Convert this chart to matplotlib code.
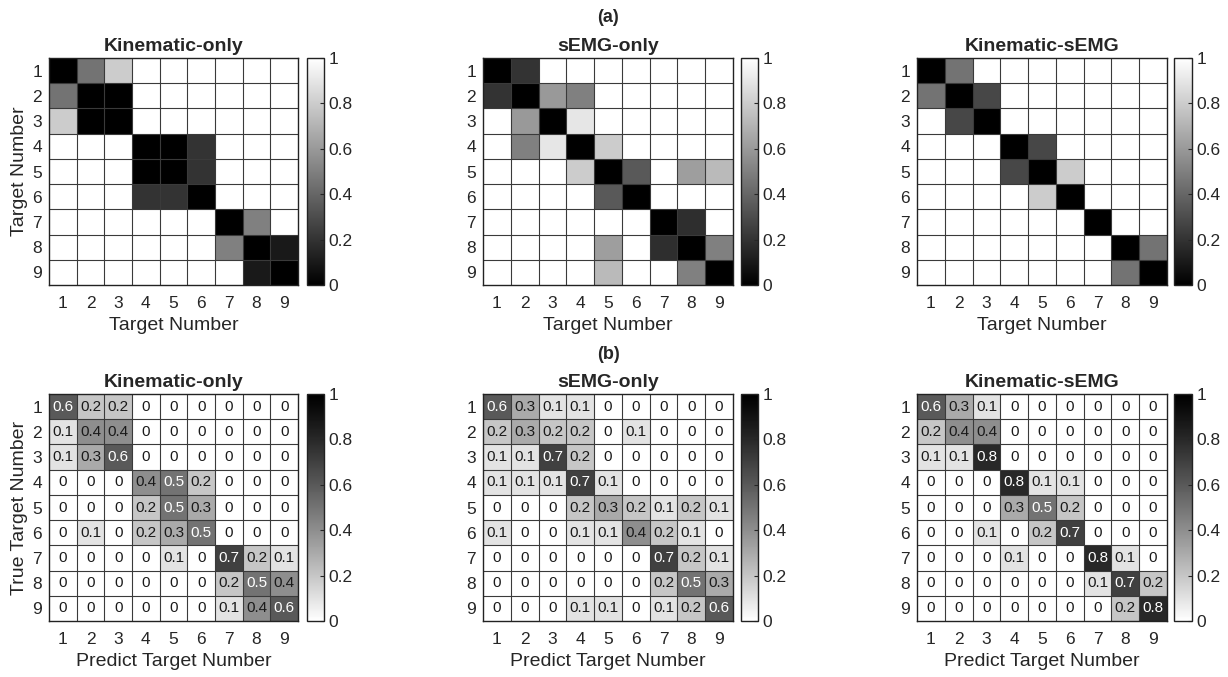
import numpy as np
import matplotlib
matplotlib.use("Agg")
import matplotlib.pyplot as plt
from matplotlib.colors import LinearSegmentedColormap, ListedColormap

plt.rcParams['font.family'] = ['Liberation Sans', 'DejaVu Sans']

# ---------------- data ----------------
targets = [1, 2, 3, 4, 5, 6, 7, 8, 9]
tick_labels = [str(t) for t in targets]
titles = ["Kinematic-only", "sEMG-only", "Kinematic-sEMG"]

# (a) similarity / distance maps (0 = black, 1 = white)
sim_kin = [
    [0.00, 0.45, 0.80, 1, 1, 1, 1, 1, 1],
    [0.45, 0.00, 0.00, 1, 1, 1, 1, 1, 1],
    [0.80, 0.00, 0.00, 1, 1, 1, 1, 1, 1],
    [1, 1, 1, 0.00, 0.00, 0.20, 1, 1, 1],
    [1, 1, 1, 0.00, 0.00, 0.20, 1, 1, 1],
    [1, 1, 1, 0.20, 0.20, 0.00, 1, 1, 1],
    [1, 1, 1, 1, 1, 1, 0.00, 0.50, 1],
    [1, 1, 1, 1, 1, 1, 0.50, 0.00, 0.10],
    [1, 1, 1, 1, 1, 1, 1, 0.10, 0.00],
]
sim_emg = [
    [0.00, 0.20, 1, 1, 1, 1, 1, 1, 1],
    [0.20, 0.00, 0.60, 0.50, 1, 1, 1, 1, 1],
    [1, 0.60, 0.00, 0.90, 1, 1, 1, 1, 1],
    [1, 0.50, 0.90, 0.00, 0.80, 1, 1, 1, 1],
    [1, 1, 1, 0.80, 0.00, 0.35, 1, 0.62, 0.73],
    [1, 1, 1, 1, 0.35, 0.00, 1, 1, 1],
    [1, 1, 1, 1, 1, 1, 0.00, 0.18, 1],
    [1, 1, 1, 1, 0.62, 1, 0.18, 0.00, 0.50],
    [1, 1, 1, 1, 0.73, 1, 1, 0.50, 0.00],
]
sim_both = [
    [0.00, 0.45, 1, 1, 1, 1, 1, 1, 1],
    [0.45, 0.00, 0.28, 1, 1, 1, 1, 1, 1],
    [1, 0.28, 0.00, 1, 1, 1, 1, 1, 1],
    [1, 1, 1, 0.00, 0.28, 1, 1, 1, 1],
    [1, 1, 1, 0.28, 0.00, 0.80, 1, 1, 1],
    [1, 1, 1, 1, 0.80, 0.00, 1, 1, 1],
    [1, 1, 1, 1, 1, 1, 0.00, 1, 1],
    [1, 1, 1, 1, 1, 1, 1, 0.00, 0.45],
    [1, 1, 1, 1, 1, 1, 1, 0.45, 0.00],
]

# (b) confusion matrices
conf_kin = [
    [0.6, 0.2, 0.2, 0, 0, 0, 0, 0, 0],
    [0.1, 0.4, 0.4, 0, 0, 0, 0, 0, 0],
    [0.1, 0.3, 0.6, 0, 0, 0, 0, 0, 0],
    [0, 0, 0, 0.4, 0.5, 0.2, 0, 0, 0],
    [0, 0, 0, 0.2, 0.5, 0.3, 0, 0, 0],
    [0, 0.1, 0, 0.2, 0.3, 0.5, 0, 0, 0],
    [0, 0, 0, 0, 0.1, 0, 0.7, 0.2, 0.1],
    [0, 0, 0, 0, 0, 0, 0.2, 0.5, 0.4],
    [0, 0, 0, 0, 0, 0, 0.1, 0.4, 0.6],
]
conf_emg = [
    [0.6, 0.3, 0.1, 0.1, 0, 0, 0, 0, 0],
    [0.2, 0.3, 0.2, 0.2, 0, 0.1, 0, 0, 0],
    [0.1, 0.1, 0.7, 0.2, 0, 0, 0, 0, 0],
    [0.1, 0.1, 0.1, 0.7, 0.1, 0, 0, 0, 0],
    [0, 0, 0, 0.2, 0.3, 0.2, 0.1, 0.2, 0.1],
    [0.1, 0, 0, 0.1, 0.1, 0.4, 0.2, 0.1, 0],
    [0, 0, 0, 0, 0, 0, 0.7, 0.2, 0.1],
    [0, 0, 0, 0, 0, 0, 0.2, 0.5, 0.3],
    [0, 0, 0, 0.1, 0.1, 0, 0.1, 0.2, 0.6],
]
conf_both = [
    [0.6, 0.3, 0.1, 0, 0, 0, 0, 0, 0],
    [0.2, 0.4, 0.4, 0, 0, 0, 0, 0, 0],
    [0.1, 0.1, 0.8, 0, 0, 0, 0, 0, 0],
    [0, 0, 0, 0.8, 0.1, 0.1, 0, 0, 0],
    [0, 0, 0, 0.3, 0.5, 0.2, 0, 0, 0],
    [0, 0, 0.1, 0, 0.2, 0.7, 0, 0, 0],
    [0, 0, 0, 0.1, 0, 0, 0.8, 0.1, 0],
    [0, 0, 0, 0, 0, 0, 0.1, 0.7, 0.2],
    [0, 0, 0, 0, 0, 0, 0, 0.2, 0.8],
]

# ---------------- layout ----------------
W, H = 1228, 677
fig = plt.figure(figsize=(W / 100, H / 100), dpi=100)

ax_x = [(49, 298), (483, 733), (917, 1167)]
cb_x = [(307, 324), (741, 758), (1174, 1192)]
row_y = [(58, 285), (394, 621)]

def px_rect(x0, x1, y0, y1):
    return [x0 / W, 1 - y1 / H, (x1 - x0) / W, (y1 - y0) / H]

cmap_a = LinearSegmentedColormap.from_list("graya", ["#000000", "#ffffff"])
_t = np.linspace(0, 1, 256)
_g = 0.96 * (1 - _t) ** 1.15 + 0.04 * (1 - _t)
cmap_b = ListedColormap(np.column_stack([_g, _g, _g]), name="grayb")

TXT = "#262626"
GRID = "#3a3a3a"
n = len(targets)
edges = np.arange(n + 1) + 0.5

def draw(row, col, data, cmap, annotate, ylabel, xlabel):
    M = np.array(data, dtype=float)
    ax = fig.add_axes(px_rect(*ax_x[col], *row_y[row]))
    mesh = ax.pcolormesh(edges, edges, M, cmap=cmap, vmin=0, vmax=1)
    for e in edges[1:-1]:
        ax.axhline(e, color=GRID, lw=0.8)
        ax.axvline(e, color=GRID, lw=0.8)
    ax.set_xlim(0.5, n + 0.5)
    ax.set_ylim(n + 0.5, 0.5)
    ax.set_xticks(targets)
    ax.set_yticks(targets)
    ax.set_xticklabels(tick_labels)
    ax.set_yticklabels(tick_labels)
    ax.tick_params(length=0, labelsize=12.5, colors=TXT)
    ax.tick_params(axis='x', pad=8)
    ax.tick_params(axis='y', pad=5)
    for s in ax.spines.values():
        s.set_color("#222222")
        s.set_linewidth(1.0)
    ax.set_title(titles[col], fontsize=14, fontweight="bold", color=TXT, pad=5)
    ax.set_xlabel(xlabel, fontsize=14, color=TXT, labelpad=4)
    if ylabel:
        ax.set_ylabel(ylabel, fontsize=14, color=TXT, labelpad=3)
    if annotate:
        for i in range(n):
            for j in range(n):
                v = M[i, j]
                txt = "0" if v == 0 else f"{v:.1f}"
                c = "white" if v >= 0.45 else "#1a1a1a"
                ax.text(targets[j], targets[i], txt, ha="center", va="center",
                        fontsize=11, color=c)
    cax = fig.add_axes(px_rect(*cb_x[col], *row_y[row]))
    cb = fig.colorbar(mesh, cax=cax, ticks=[0, 0.2, 0.4, 0.6, 0.8, 1])
    cb.ax.set_yticklabels(["0", "0.2", "0.4", "0.6", "0.8", "1"])
    cb.ax.tick_params(labelsize=12.5, colors=TXT, direction="in", length=3,
                      width=0.8, pad=3)
    cb.outline.set_edgecolor("#222222")
    cb.outline.set_linewidth(1.0)

sims = [sim_kin, sim_emg, sim_both]
confs = [conf_kin, conf_emg, conf_both]
for c in range(3):
    draw(0, c, sims[c], cmap_a, False, "Target Number" if c == 0 else None,
         "Target Number")
    draw(1, c, confs[c], cmap_b, True, "True Target Number" if c == 0 else None,
         "Predict Target Number")

fig.text(608 / W, 1 - 18 / H, "(a)", ha="center", va="center",
         fontsize=13, fontweight="bold", color=TXT)
fig.text(608 / W, 1 - 354 / H, "(b)", ha="center", va="center",
         fontsize=13, fontweight="bold", color=TXT)

fig.savefig("out.png", dpi=100, facecolor="white")
